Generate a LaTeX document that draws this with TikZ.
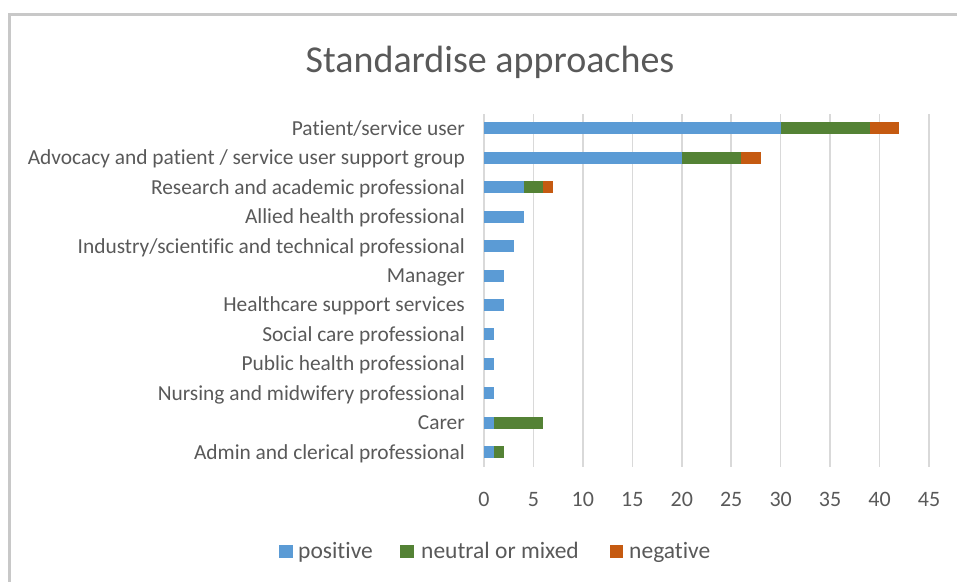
\documentclass[tikz,border=0pt]{standalone}
\usepackage{fontspec}
\setmainfont{Carlito}[Ligatures=NoCommon]
\definecolor{poscol}{HTML}{5B9BD5}
\definecolor{neucol}{HTML}{548235}
\definecolor{negcol}{HTML}{C55A11}
\definecolor{txtcol}{HTML}{595959}
\definecolor{gridcol}{HTML}{D9D9D9}
\definecolor{framecol}{HTML}{C8C8C8}
\begin{document}
\begin{tikzpicture}[x=1pt,y=-1pt,
    lbl/.style={text=txtcol,inner sep=0pt,text height=13.8pt,text depth=0pt,
      font=\fontsize{21.4}{24}\selectfont},
    ticklbl/.style={lbl,text height=14pt,font=\fontsize{22}{24}\selectfont},
    keylbl/.style={lbl,anchor=west,text height=15.1pt,font=\fontsize{23.5}{26}\selectfont},
    gridline/.style={gridcol,line width=1.6pt}]
      \useasboundingbox (0,0) rectangle (957,581);
      \draw[framecol,line width=2.5pt] (9.5,14.5) rectangle (975,600);
      \draw
        (490,60) node[lbl,text height=24.5pt,font=\fontsize{38}{42}\selectfont] (title){Standardise approaches};
      % category labels
      \draw
        (465,128.3) node[lbl,anchor=east] (c0){Patient/service user}
        (465,157.7) node[lbl,anchor=east] (c1){Advocacy and patient / service user support group}
        (465,187.2) node[lbl,anchor=east] (c2){Research and academic professional}
        (465,216.6) node[lbl,anchor=east] (c3){Allied health professional}
        (465,246.1) node[lbl,anchor=east] (c4){Industry/scientific and technical professional}
        (465,275.5) node[lbl,anchor=east] (c5){Manager}
        (465,305.0) node[lbl,anchor=east] (c6){Healthcare support services}
        (465,334.4) node[lbl,anchor=east] (c7){Social care professional}
        (465,363.9) node[lbl,anchor=east] (c8){Public health professional}
        (465,393.3) node[lbl,anchor=east] (c9){Nursing and midwifery professional}
        (465,422.8) node[lbl,anchor=east] (c10){Carer}
        (465,452.2) node[lbl,anchor=east] (c11){Admin and clerical professional};
      % value axis
      \begin{scope}[shift={(484pt,0pt)},x=9.889pt]
        \draw[gridline] (0,114) -- (0,467);
        \draw[gridline] (5,114) -- (5,467);
        \draw[gridline] (10,114) -- (10,467);
        \draw[gridline] (15,114) -- (15,467);
        \draw[gridline] (20,114) -- (20,467);
        \draw[gridline] (25,114) -- (25,467);
        \draw[gridline] (30,114) -- (30,467);
        \draw[gridline] (35,114) -- (35,467);
        \draw[gridline] (40,114) -- (40,467);
        \draw[gridline] (45,114) -- (45,467);
        \draw
          (0,499) node[ticklbl] (t0){0}
          (5,499) node[ticklbl] (t5){5}
          (10,499) node[ticklbl] (t10){10}
          (15,499) node[ticklbl] (t15){15}
          (20,499) node[ticklbl] (t20){20}
          (25,499) node[ticklbl] (t25){25}
          (30,499) node[ticklbl] (t30){30}
          (35,499) node[ticklbl] (t35){35}
          (40,499) node[ticklbl] (t40){40}
          (45,499) node[ticklbl] (t45){45};
        % bars
        \fill[poscol] (0,122.3) rectangle (30,134.3);
        \fill[neucol] (30,122.3) rectangle (39,134.3);
        \fill[negcol] (39,122.3) rectangle (42,134.3);
        \fill[poscol] (0,151.7) rectangle (20,163.7);
        \fill[neucol] (20,151.7) rectangle (26,163.7);
        \fill[negcol] (26,151.7) rectangle (28,163.7);
        \fill[poscol] (0,181.2) rectangle (4,193.2);
        \fill[neucol] (4,181.2) rectangle (6,193.2);
        \fill[negcol] (6,181.2) rectangle (7,193.2);
        \fill[poscol] (0,210.6) rectangle (4,222.6);
        \fill[poscol] (0,240.1) rectangle (3,252.1);
        \fill[poscol] (0,269.5) rectangle (2,281.5);
        \fill[poscol] (0,299.0) rectangle (2,311.0);
        \fill[poscol] (0,328.4) rectangle (1,340.4);
        \fill[poscol] (0,357.9) rectangle (1,369.9);
        \fill[poscol] (0,387.3) rectangle (1,399.3);
        \fill[poscol] (0,416.8) rectangle (1,428.8);
        \fill[neucol] (1,416.8) rectangle (6,428.8);
        \fill[poscol] (0,446.2) rectangle (1,458.2);
        \fill[neucol] (1,446.2) rectangle (2,458.2);
      \end{scope}
      % legend
      \fill[poscol] (279,544.5) rectangle (293,558);
      \fill[neucol] (400,544.5) rectangle (414,558);
      \fill[negcol] (610,544.5) rectangle (623,558);
      \draw
        (298,551) node[keylbl] (lpos){positive}
        (421,551) node[keylbl] (lneu){neutral or mixed}
        (629,551) node[keylbl] (lneg){negative};
    \end{tikzpicture}
\end{document}
